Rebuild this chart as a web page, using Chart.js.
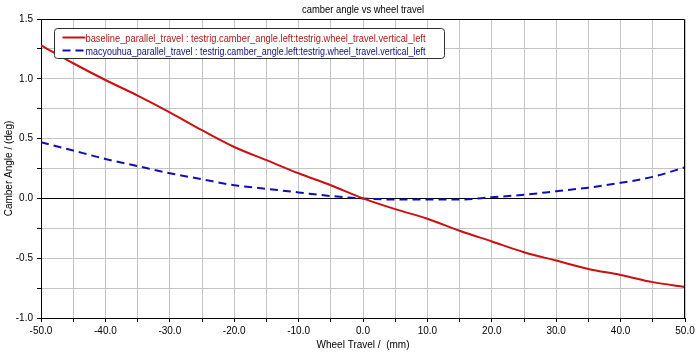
<!DOCTYPE html>
<html>
<head>
<meta charset="utf-8">
<script src="https://cdn.jsdelivr.net/npm/chart.js@4"></script>
<style>
  html, body { margin: 0; padding: 0; background: #ffffff; }
  #wrap { width: 698px; height: 354px; position: relative; }
</style>
</head>
<body>
<div id="wrap"><canvas id="chart"></canvas></div>
<script>
  const wheelTravel = [-50, -45, -40, -35, -30, -25, -20, -15, -10, -5, 0, 5, 10, 15, 20, 25, 30, 35, 40, 45, 50];
  const baseline = [1.28, 1.13, 0.99, 0.86, 0.72, 0.57, 0.43, 0.32, 0.21, 0.11, 0.0, -0.09, -0.17, -0.27, -0.36, -0.45, -0.52, -0.59, -0.64, -0.70, -0.74];
  const macyouhua = [0.47, 0.40, 0.33, 0.27, 0.21, 0.16, 0.11, 0.08, 0.05, 0.02, 0.0, -0.01, -0.01, -0.01, 0.01, 0.03, 0.06, 0.09, 0.13, 0.18, 0.26];
  const seriesNames = [
    "baseline_parallel_travel : testrig.camber_angle.left:testrig.wheel_travel.vertical_left",
    "macyouhua_parallel_travel : testrig.camber_angle.left:testrig.wheel_travel.vertical_left"
  ];
  const titleText = "camber angle vs wheel travel";

  const FONT = "Arial, 'Liberation Sans', sans-serif";
  const COLORS = {
    red: "#cc1010",
    redText: "#b01818",
    blue: "#1010b0",
    blueText: "#101080",
    grid: "#c4c4c4"
  };

  const toPoints = (ys) => wheelTravel.map((x, i) => ({ x, y: ys[i] }));

  const framePlugin = {
    id: "framePlugin",
    beforeDraw(chart) {
      const { ctx, width, height } = chart;
      ctx.save();
      ctx.fillStyle = "#ffffff";
      ctx.fillRect(0, 0, width, height);
      ctx.restore();
    },
    afterDraw(chart) {
      const { ctx, chartArea: a } = chart;
      ctx.save();
      // frame
      ctx.strokeStyle = "#000000";
      ctx.lineWidth = 1;
      ctx.beginPath();
      ctx.moveTo(a.left + 0.5, a.top + 0.5);
      ctx.lineTo(a.right - 0.5, a.top + 0.5);
      ctx.lineTo(a.right - 0.5, a.bottom);
      ctx.stroke();

      // title
      ctx.fillStyle = "#000000";
      ctx.font = "11px " + FONT;
      ctx.textAlign = "center";
      ctx.textBaseline = "middle";
      ctx.fillText(titleText, (a.left + a.right) / 2, 10, 122);

      // legend box
      const ds = chart.data.datasets;
      const textW = 340;
      const bx = 54.5, by = 28.5, bh = 30;
      const bw = 31 + textW + 19;
      ctx.fillStyle = "#ffffff";
      ctx.strokeStyle = "#303030";
      ctx.beginPath();
      ctx.roundRect(bx, by, bw, bh, 3);
      ctx.fill();
      ctx.stroke();
      ds.forEach((d, i) => {
        const y = by + 9 + i * 13;
        ctx.strokeStyle = d.borderColor;
        ctx.lineWidth = 2;
        ctx.setLineDash(d.borderDash || []);
        ctx.beginPath();
        ctx.moveTo(bx + 8, y);
        ctx.lineTo(bx + 31, y);
        ctx.stroke();
        ctx.setLineDash([]);
        ctx.fillStyle = d.textColor;
        ctx.textAlign = "left";
        ctx.fillText(d.label, bx + 31, y + 1, textW);
      });
      ctx.restore();
    }
  };

  new Chart(document.getElementById("chart"), {
    type: "line",
    data: {
      datasets: [
        {
          label: seriesNames[0],
          data: toPoints(baseline),
          borderColor: COLORS.red,
          textColor: COLORS.redText,
          borderWidth: 2,
          pointRadius: 0,
          tension: 0.4,
          cubicInterpolationMode: "monotone"
        },
        {
          label: seriesNames[1],
          data: toPoints(macyouhua),
          borderColor: COLORS.blue,
          textColor: COLORS.blueText,
          borderWidth: 2,
          borderDash: [8, 5],
          pointRadius: 0,
          tension: 0.4,
          cubicInterpolationMode: "monotone"
        }
      ]
    },
    options: {
      responsive: true,
      maintainAspectRatio: false,
      animation: false,
      layout: { padding: { top: 19, right: 13, left: 0, bottom: 0 } },
      plugins: {
        legend: { display: false },
        title: { display: false },
        tooltip: { enabled: false }
      },
      scales: {
        x: {
          type: "linear",
          min: -50,
          max: 50,
          afterFit(scale) { scale.height = 36; },
          border: { color: "#000000", width: 1 },
          grid: {
            color: COLORS.grid,
            tickColor: "#000000",
            tickLength: 4
          },
          ticks: {
            stepSize: 5,
            autoSkip: false,
            maxRotation: 0,
            padding: 3,
            color: "#000000",
            font: { family: FONT, size: 10 },
            callback: (v) => (v % 10 === 0 ? v.toFixed(1) : "")
          },
          title: {
            display: true,
            text: "Wheel Travel /  (mm)",
            color: "#000000",
            font: { family: FONT, size: 10 },
            padding: { top: 0, bottom: 3 }
          }
        },
        y: {
          type: "linear",
          min: -1,
          max: 1.5,
          afterFit(scale) { scale.width = 41; },
          border: { color: "#000000", width: 1 },
          grid: {
            color: (c) => (c.tick && c.tick.value === 0 ? "#000000" : COLORS.grid),
            tickColor: "#000000",
            tickLength: 4
          },
          ticks: {
            stepSize: 0.25,
            autoSkip: false,
            padding: 4,
            color: "#000000",
            font: { family: FONT, size: 10 },
            callback: (v) => (Math.abs(v * 2 - Math.round(v * 2)) < 1e-9 ? v.toFixed(1) : "")
          },
          title: {
            display: true,
            text: "Camber Angle / (deg)",
            color: "#000000",
            font: { family: FONT, size: 10 },
            padding: { top: 3, bottom: 0 }
          }
        }
      }
    },
    plugins: [framePlugin]
  });
</script>
</body>
</html>
